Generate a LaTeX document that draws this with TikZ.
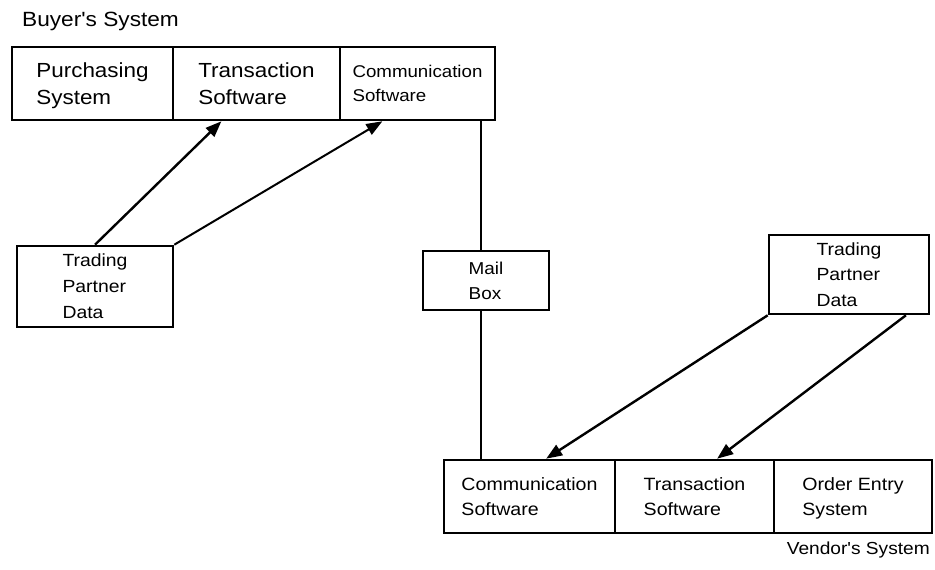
\documentclass[tikz,border=0pt]{standalone}
\usepackage{fontspec}
\setmainfont{Liberation Sans}[FakeStretch=1.1, Ligatures=TeXOff]
\usetikzlibrary{arrows.meta,calc}

\tikzset{
  blk/.style={draw, line width=2.6pt, inner sep=0pt, align=left, text depth=0pt},
  bigtxt/.style={font=\fontsize{20.4}{27}\selectfont},
  midtxt/.style={font=\fontsize{17.8}{25}\selectfont},
  caption/.style={font=\fontsize{17.4}{20}\selectfont, inner sep=0pt},
  link/.style={line width=2.6pt},
  flow/.style={line width=2.4pt, -{Triangle[length=16pt,width=12pt]}},
}

\begin{document}
\begin{tikzpicture}[x=1pt,y=-1pt]
\useasboundingbox (0,0) rectangle (935,570);

% buyer side
\node[caption, font=\fontsize{20.6}{22}\selectfont, anchor=base west] (buyer) at (22,27) {Buyer's System};
\node[blk, bigtxt, minimum width=161pt, minimum height=73pt] (ps) at (92.5,83.5) {Purchasing\\System};
\node[blk, bigtxt, minimum width=167pt, minimum height=73pt] (ts) at (256.5,83.5) {Transaction\\Software};
\node[blk, font=\fontsize{17}{24}\selectfont, minimum width=155pt, minimum height=73pt] (cs) at (417.5,83.5) {Communication\\Software};
\node[blk, font=\fontsize{17.6}{26}\selectfont, minimum width=156pt, minimum height=81pt] (ltp) at (95,286.5) {Trading\\Partner\\Data};

% mail box between the two sides
\node[blk, font=\fontsize{17.2}{25}\selectfont, minimum width=126pt, minimum height=59pt] (mb) at (486,280.5) {Mail\\Box};

% vendor side
\node[blk, font=\fontsize{17.6}{25.5}\selectfont, minimum width=160pt, minimum height=79pt] (rtp) at (849,274.5) {Trading\\Partner\\Data};
\node[blk, midtxt, minimum width=171pt, minimum height=73pt] (bcs) at (529.5,496.5) {Communication\\Software};
\node[blk, midtxt, minimum width=159pt, minimum height=73pt] (bts) at (694.5,496.5) {Transaction\\Software};
\node[blk, midtxt, minimum width=158pt, minimum height=73pt] (boe) at (853,496.5) {Order Entry\\System};
\node[caption, anchor=base east] (vendor) at (930,554) {Vendor's System};

% communication line through the mail box
\coordinate (bus) at (481,0);
\draw[link] (cs.south -| bus) -- (mb.north -| bus);
\draw[link] (mb.south -| bus) -- (bcs.north -| bus);

% trading partner data feeds
\draw[flow] (ltp.north) -- ($(ts.south west)!0.293!(ts.south east)$);
\draw[flow, line width=2pt] (ltp.north east) -- ($(cs.south west)!0.277!(cs.south east)$);
\draw[flow] (rtp.south west) -- ($(bcs.north west)!0.596!(bcs.north east)$);
\draw[flow] ($(rtp.south west)!0.85!(rtp.south east)$) -- ($(bts.north west)!0.64!(bts.north east)$);
\end{tikzpicture}
\end{document}
